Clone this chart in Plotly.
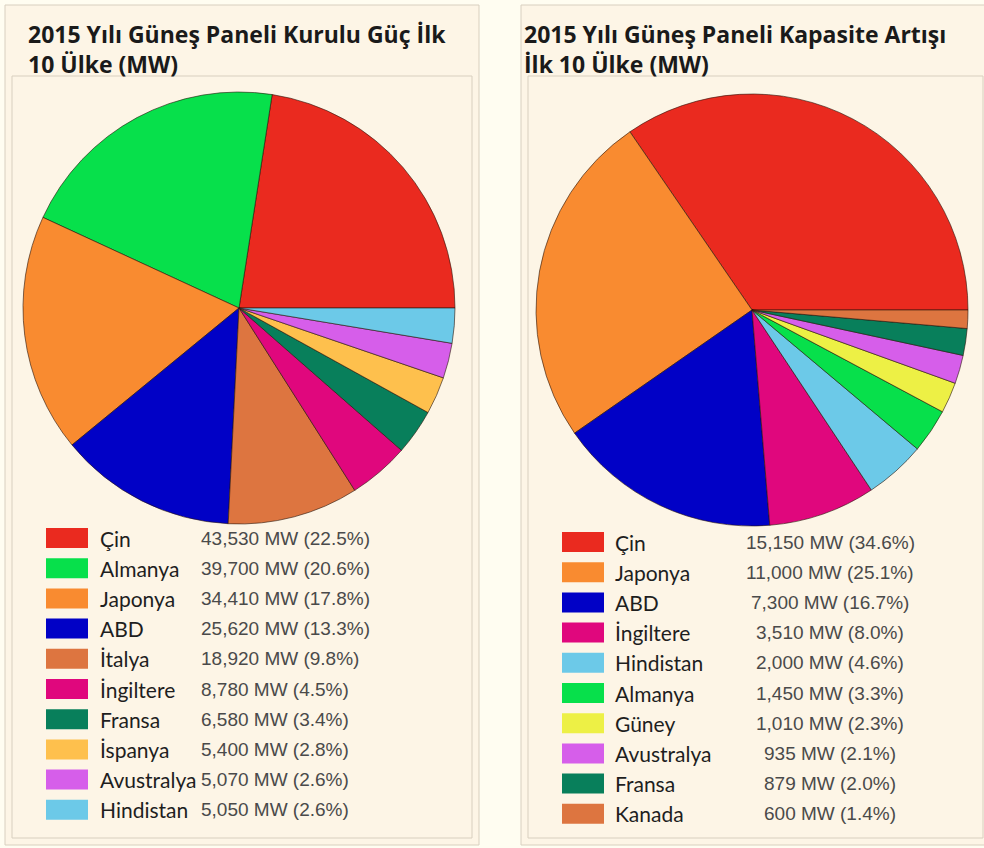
import plotly.graph_objects as go

# ---- data ----
installed_countries = ["Çin", "Almanya", "Japonya", "ABD", "İtalya", "İngiltere",
                       "Fransa", "İspanya", "Avustralya", "Hindistan"]
installed_mw = [43530, 39700, 34410, 25620, 18920, 8780, 6580, 5400, 5070, 5050]
installed_colors = ["#EA2A1F", "#07E04B", "#F98B30", "#0101C6", "#DD7540", "#E0077D",
                    "#087F5B", "#FEC04D", "#D65EEA", "#6CC9E8"]

added_countries = ["Çin", "Japonya", "ABD", "İngiltere", "Hindistan", "Almanya",
                   "Güney", "Avustralya", "Fransa", "Kanada"]
added_mw = [15150, 11000, 7300, 3510, 2000, 1450, 1010, 935, 879, 600]
added_colors = ["#EA2A1F", "#F98B30", "#0101C6", "#E0077D", "#6CC9E8", "#07E04B",
                "#EDF045", "#D65EEA", "#087F5B", "#DD7540"]

title_left = ["2015 Yılı Güneş Paneli Kurulu Güç İlk", "10 Ülke (MW)"]
title_right = ["2015 Yılı Güneş Paneli Kapasite Artışı", "İlk 10 Ülke (MW)"]

# ---- layout helpers (pixel -> paper) ----
W, H = 984, 848


def px(x):
    return x / W


def py(y):
    return 1 - y / H


def pie_domain(cx, cy, r):
    return dict(x=[px(cx - r), px(cx + r)], y=[py(cy + r), py(cy - r)])


def start_at_east(values):
    # plotly places the first counterclockwise slice where a clockwise one would be,
    # so shift it back so that it begins at 3 o'clock and opens upward
    return 90 - 360 * values[0] / sum(values)


PANEL_BG = "#FDF5E6"
BORDER = "#D8CFBF"
NAME_FONT = dict(family="Lato, 'Open Sans', sans-serif", size=21, color="#1E1E1E")
VALUE_FONT = dict(family="'Liberation Sans', Arial, sans-serif", size=19, color="#4A4A4A")
TITLE_FONT = dict(family="'Open Sans', Lato, sans-serif", size=23, color="#1A1A1A")

fig = go.Figure()

pie_line = dict(color="rgba(40,20,10,0.75)", width=0.8)
fig.add_trace(go.Pie(
    labels=installed_countries, values=installed_mw, sort=False,
    direction="counterclockwise", rotation=start_at_east(installed_mw),
    marker=dict(colors=installed_colors, line=pie_line),
    textinfo="none", hoverinfo="label+value+percent", showlegend=False,
    domain=pie_domain(239, 308, 216),
))
fig.add_trace(go.Pie(
    labels=added_countries, values=added_mw, sort=False,
    direction="counterclockwise", rotation=start_at_east(added_mw),
    marker=dict(colors=added_colors, line=pie_line),
    textinfo="none", hoverinfo="label+value+percent", showlegend=False,
    domain=pie_domain(752, 310, 216),
))

shapes = []
annotations = []


def panel(x0, x1):
    shapes.append(dict(type="rect", xref="paper", yref="paper", layer="below",
                       x0=px(x0), x1=px(x1), y0=py(845), y1=py(5),
                       fillcolor=PANEL_BG, line=dict(color=BORDER, width=1)))
    shapes.append(dict(type="rect", xref="paper", yref="paper", layer="below",
                       x0=px(x0 + 7), x1=px(x1 - 7), y0=py(838), y1=py(76),
                       fillcolor=PANEL_BG, line=dict(color=BORDER, width=1)))


def title(lines, x):
    annotations.append(dict(text="<b>" + "<br>".join(lines) + "</b>",
                            xref="paper", yref="paper", x=px(x), y=py(49),
                            xanchor="left", yanchor="middle", align="left",
                            showarrow=False, font=TITLE_FONT))


def legend(names, values, colors, sw_x, top, name_x, val_x, val_anchor):
    total = sum(values)
    step = 30.2
    for i, (n, v, c) in enumerate(zip(names, values, colors)):
        y0 = top + step * i
        yc = y0 + 10
        shapes.append(dict(type="rect", xref="paper", yref="paper",
                           x0=px(sw_x), x1=px(sw_x + 42), y0=py(y0 + 20), y1=py(y0),
                           fillcolor=c, line=dict(width=0)))
        annotations.append(dict(text=n, xref="paper", yref="paper", x=px(name_x), y=py(yc),
                                xanchor="left", yanchor="middle", showarrow=False,
                                font=NAME_FONT))
        annotations.append(dict(text=f"{v:,} MW ({100 * v / total:.1f}%)",
                                xref="paper", yref="paper", x=px(val_x), y=py(yc),
                                xanchor=val_anchor, yanchor="middle", showarrow=False,
                                font=VALUE_FONT))


panel(5, 479)
panel(521, 990)
title(title_left, 26)
title(title_right, 522)
legend(installed_countries, installed_mw, installed_colors, 46, 528, 98, 199, "left")
legend(added_countries, added_mw, added_colors, 562, 532, 613, 830, "center")

fig.update_layout(
    width=W, height=H, margin=dict(l=0, r=0, t=0, b=0),
    paper_bgcolor="#FFFDF1", plot_bgcolor="#FFFDF1",
    shapes=shapes, annotations=annotations, showlegend=False,
)

fig.write_html("out.html")
